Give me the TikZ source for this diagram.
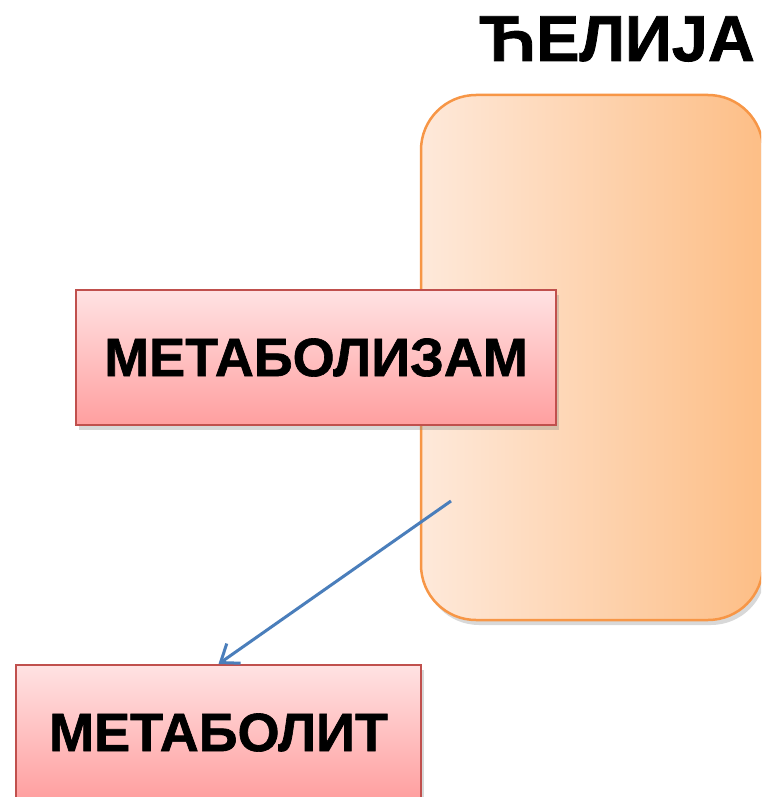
\documentclass[tikz,border=0pt]{standalone}
\usepackage{fontspec}
\setmainfont{Liberation Sans}
\newfontfamily\heavyfont{Liberation Sans Bold}[FakeBold=1.2]
\usetikzlibrary{arrows.meta,shadows}
\definecolor{cellborder}{HTML}{F79646}
\definecolor{cellleft}{HTML}{FEE9DA}
\definecolor{cellright}{HTML}{FDBE86}
\definecolor{redborder}{HTML}{C0504D}
\definecolor{redtop}{HTML}{FFE2E3}
\definecolor{redbottom}{HTML}{FF9F9F}
\definecolor{arrowblue}{HTML}{4A7EBB}
\tikzset{
  cellbox/.style={draw=cellborder, line width=2.5pt, rounded corners=55pt,
    left color=cellleft, right color=cellright, inner sep=0pt,
    minimum width=342pt, minimum height=525pt,
    drop shadow={opacity=0.3, shadow xshift=3pt, shadow yshift=-5pt}},
  termbox/.style={draw=redborder, line width=2pt, top color=redtop, bottom color=redbottom,
    inner sep=0pt, minimum height=135pt, font=\heavyfont\fontsize{54}{62}\selectfont,
    drop shadow={opacity=0.3, shadow xshift=3pt, shadow yshift=-5pt}},
  titletext/.style={font=\heavyfont\fontsize{65}{75}\selectfont, inner sep=0pt},
  flow/.style={draw=arrowblue, line width=3pt, -{Straight Barb[length=16pt,width=24pt,line width=3pt]}}
}
\begin{document}
\begin{tikzpicture}[x=1pt,y=-1pt]
\useasboundingbox (0,0) rectangle (761,797);
\clip (0,0) rectangle (761,797);
\fill[white] (0,0) rectangle (761,797);
\node[titletext, anchor=base] (title) at (617,61) {ЋЕЛИЈА};
\node[cellbox] (cell) at (592,357.5) {};
\node[termbox, minimum width=480pt] (metabolizam) at (316,357.5) {МЕТАБОЛИЗАМ};
\node[termbox, minimum width=405pt] (metabolit) at (218.5,732.5) {МЕТАБОЛИТ};
\coordinate (start) at (451,501);
\draw[flow] (start) -- (metabolit.north);
\end{tikzpicture}
\end{document}
